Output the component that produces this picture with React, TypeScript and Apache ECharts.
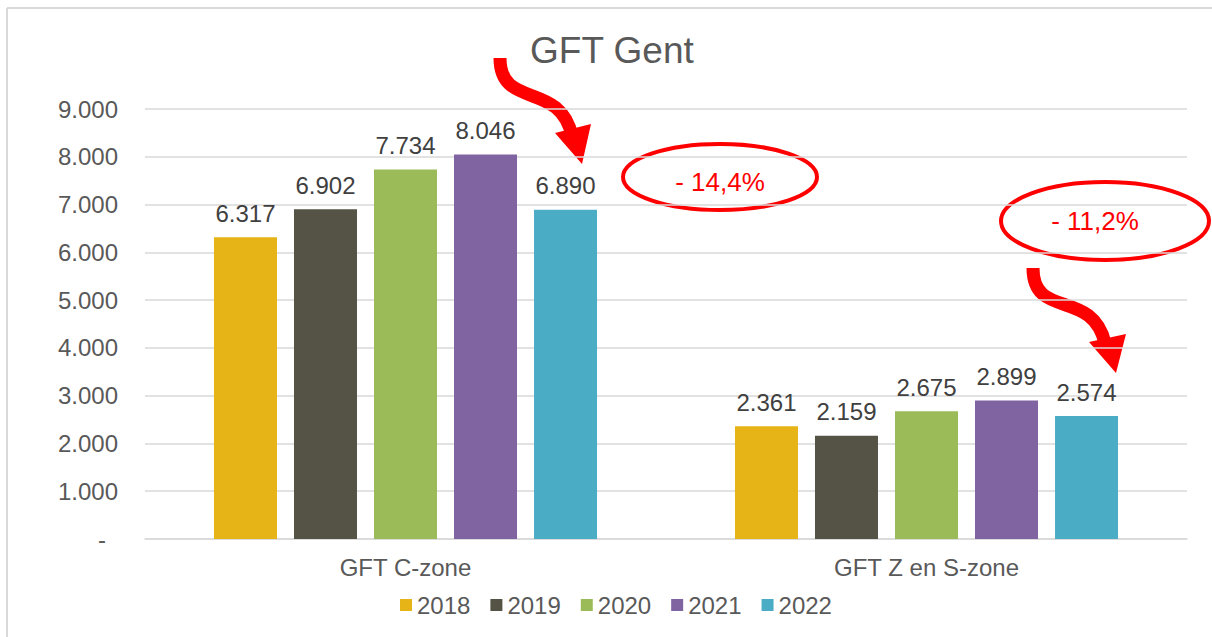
import React, { useEffect, useRef } from "react";
import * as echarts from "echarts";

const categories = ["GFT C-zone", "GFT Z en S-zone"];
const years = ["2018", "2019", "2020", "2021", "2022"];
const values2018 = [6317, 2361];
const values2019 = [6902, 2159];
const values2020 = [7734, 2675];
const values2021 = [8046, 2899];
const values2022 = [6890, 2574];
const seriesValues = [values2018, values2019, values2020, values2021, values2022];
const colors = ["#E6B416", "#555345", "#9BBB59", "#8064A2", "#4BACC6"];
const yTicks = [0, 1000, 2000, 3000, 4000, 5000, 6000, 7000, 8000, 9000];
const changeLabels = ["- 14,4%", "- 11,2%"];

const FONT = "'Liberation Sans', Arial, sans-serif";
const fmt = (v: number) => (v === 0 ? "-" : v.toLocaleString("de-DE"));

export default function App() {
  const ref = useRef<HTMLDivElement>(null);
  useEffect(() => {
    if (!ref.current) return;
    document.body.style.overflow = "hidden";
    const chart = echarts.init(ref.current, null, { renderer: "svg" });
    const red = "#FF0000";
    chart.setOption({
      animation: false,
      backgroundColor: "#ffffff",
      textStyle: { fontFamily: FONT },
      title: {
        text: "GFT Gent",
        left: 525,
        top: 27,
        textStyle: { fontFamily: FONT, fontSize: 37, fontWeight: "normal", color: "#595959" },
      },
      legend: {
        bottom: 15,
        left: 395,
        icon: "rect",
        itemWidth: 12,
        itemHeight: 12,
        itemGap: 20,
        textStyle: { fontFamily: FONT, fontSize: 24, color: "#595959" },
        data: years,
      },
      grid: { left: 145, right: 25, top: 109, bottom: 98, containLabel: false },
      xAxis: {
        type: "category",
        data: categories,
        axisLine: { lineStyle: { color: "#d9d9d9", width: 1.5 } },
        axisTick: { show: false },
        axisLabel: { fontFamily: FONT, fontSize: 24, color: "#595959", margin: 16 },
      },
      yAxis: {
        type: "value",
        min: yTicks[0],
        max: yTicks[yTicks.length - 1],
        interval: 1000,
        axisLine: { show: false },
        axisTick: { show: false },
        splitLine: { lineStyle: { color: "#d9d9d9", width: 1.5 } },
        axisLabel: {
          fontFamily: FONT,
          fontSize: 24,
          color: "#595959",
          margin: 27,
          formatter: (v: number) => (v === 0 ? "{d|-}" : fmt(v)),
          rich: { d: { fontFamily: FONT, fontSize: 24, color: "#595959", padding: [0, 12, 0, 0] } },
        },
      },
      series: years.map((y, i) => ({
        name: y,
        type: "bar",
        data: seriesValues[i],
        barWidth: 63,
        barGap: "27%",
        itemStyle: { color: colors[i] },
        label: {
          show: true,
          position: "top",
          distance: 12,
          fontFamily: FONT,
          fontSize: 24,
          color: "#404040",
          formatter: (p: any) => fmt(p.value),
        },
      })),
      graphic: [
        { type: "line", shape: { x1: 7, y1: 8, x2: 1212, y2: 8 }, style: { stroke: "#d9d9d9", lineWidth: 2 } },
        { type: "line", shape: { x1: 7, y1: 8, x2: 7, y2: 637 }, style: { stroke: "#d9d9d9", lineWidth: 2 } },
        {
          type: "ellipse",
          shape: { cx: 720, cy: 177, rx: 97, ry: 33 },
          style: { fill: "none", stroke: red, lineWidth: 4 },
        },
        {
          type: "text",
          x: 720,
          y: 182,
          style: { text: changeLabels[0], fill: red, fontFamily: FONT, fontSize: 26, align: "center", verticalAlign: "middle" },
        },
        {
          type: "ellipse",
          shape: { cx: 1105, cy: 221, rx: 104, ry: 39 },
          style: { fill: "none", stroke: red, lineWidth: 4 },
        },
        {
          type: "text",
          x: 1095,
          y: 221,
          style: { text: changeLabels[1], fill: red, fontFamily: FONT, fontSize: 26, align: "center", verticalAlign: "middle" },
        },
        {
          type: "bezierCurve",
          shape: { x1: 500, y1: 58, cpx1: 500, cpy1: 110, cpx2: 560, cpy2: 80, x2: 572, y2: 136 },
          style: { fill: "none", stroke: red, lineWidth: 13 },
        },
        {
          type: "polygon",
          shape: { points: [[555, 133], [591, 124], [582, 164]] },
          style: { fill: red },
        },
        {
          type: "bezierCurve",
          shape: { x1: 1033, y1: 268, cpx1: 1033, cpy1: 320, cpx2: 1092, cpy2: 288, x2: 1105, y2: 343 },
          style: { fill: "none", stroke: red, lineWidth: 13 },
        },
        {
          type: "polygon",
          shape: { points: [[1089, 342], [1126, 334], [1116, 373]] },
          style: { fill: red },
        },
      ],
    });
    return () => chart.dispose();
  }, []);
  return (
    <div
      ref={ref}
      style={{ position: "absolute", left: 0, top: 0, width: 1212, height: 637 }}
    />
  );
}
